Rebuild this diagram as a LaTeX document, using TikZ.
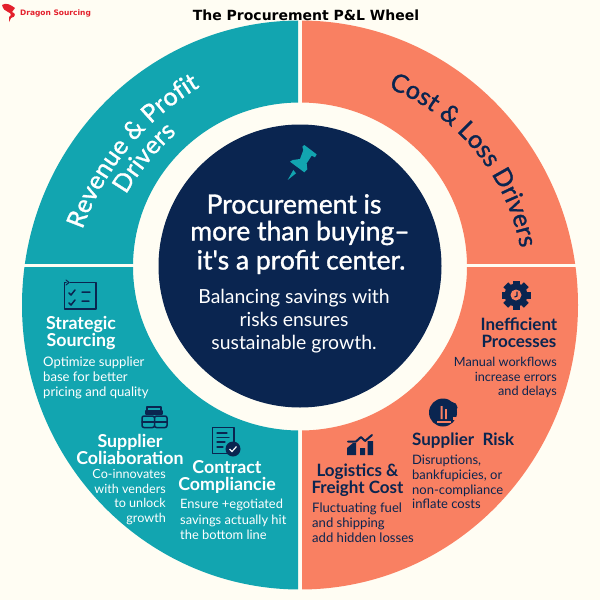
\documentclass[tikz,border=0pt]{standalone}
\usepackage{fontspec}
\setmainfont{Lato}
\newfontfamily\medfont{Lato}[FakeBold=1.2]
\newfontfamily\headfont{Lato}[BoldFont={Lato Bold}]
\newfontfamily\titlefont{DejaVu Sans}[BoldFont={DejaVu Sans Bold}]
\usetikzlibrary{decorations.text}
\definecolor{paper}{HTML}{FFFDF3}
\definecolor{teal}{HTML}{12A5B0}
\definecolor{coral}{HTML}{F98062}
\definecolor{navy}{HTML}{0A2550}
\definecolor{brandred}{HTML}{E3202C}
\newcommand{\fs}[2]{\fontsize{#1pt}{#2pt}\selectfont}
\tikzset{
  headw/.style={text=white,font=\headfont\bfseries\fs{17.8}{17},align=center,inner sep=0pt},
  headn/.style={text=navy,font=\headfont\bfseries\fs{17}{17},align=center,inner sep=0pt},
  bodyw/.style={text=white,font=\fs{13.1}{15},inner sep=0pt},
  bodyn/.style={text=navy,font=\fs{13.1}{15},inner sep=0pt},
  centreline/.style={inner sep=0pt,text=white,font=\medfont\fs{26.5}{29}},
  iconline/.style={draw=navy,line width=1.5pt,line cap=round,line join=round},
  curved/.style={decorate,decoration={text along path,text align=center,text={#1}}},
  ringpart/.style={even odd rule}
}
\newcommand{\ringshape}{(300,305) ellipse [x radius=278pt,y radius=284.5pt] (300,266.5) ellipse [x radius=167pt,y radius=164pt]}
\begin{document}
\begin{tikzpicture}[x=1pt,y=-1pt]
\useasboundingbox (0,0) rectangle (600,600);
\fill[paper] (0,0) rectangle (600,600);
% ring quadrants
\begin{scope}
  \clip (0,0) rectangle (298,263);
  \fill[teal,ringpart] \ringshape;
\end{scope}
\begin{scope}
  \clip (0,267) rectangle (298,600);
  \fill[teal,ringpart] \ringshape;
\end{scope}
\begin{scope}
  \clip (302,0) rectangle (600,263);
  \fill[coral,ringpart] \ringshape;
\end{scope}
\begin{scope}
  \clip (302,267) rectangle (600,600);
  \fill[coral,ringpart] \ringshape;
\end{scope}
\fill[navy] (300,266) circle [radius=141.5pt];
% title and logo
\node (title) at (306,15) [inner sep=0pt,font=\titlefont\bfseries\fs{14}{14}] {The Procurement P\&L Wheel};
\node (logo) at (55.5,13) [inner sep=0pt,text=brandred,font=\titlefont\bfseries\fs{7.5}{8}] {Dragon Sourcing};
\fill[brandred] (2,5) .. controls (6,2) and (11,5) .. (15,8) -- (12,12) .. controls (16,13) and (16,17) .. (11,18) -- (9,22) -- (9,17) .. controls (12,15) and (11,13) .. (8,12) .. controls (5,11) and (3,9) .. (2,5) -- cycle;
% curved headers
\path[curved={|\medfont\fs{25}{25}\color{white}|Revenue {\&} Profit}] (83,228) arc [start angle=160,end angle=121,radius=272pt];
\path[curved={|\medfont\fs{25}{25}\color{white}|Drivers}] (107,235) arc [start angle=160,end angle=121,radius=249pt];
\path[curved={|\medfont\fs{25}{25}\color{navy}|Cost {\&} Loss Drivers}] (393,90) arc [start angle=67,end angle=12,radius=215pt];
% centre text
\node (c1) at (294,204) [centreline] {Procurement is};
\node (c2) at (300,233) [centreline] {more than buying–};
\node (c3) at (301,262) [centreline] {it's a profit center.};
\node (c4) at (294,321) [inner sep=0pt,text=white,align=center,font=\fs{19.4}{23}] {Balancing savings with\\risks ensures\\sustainable growth.};
% left texts
\node (h1) at (81,333.5) [headw] {Strategic\\Sourcing};
\node (b1) at (43,378) [bodyw,anchor=west,align=left] {Optimize supplier\\base for better\\pricing and quality};
\node (h2) at (130,449.5) [headw] {Supplier\\Coliaboration};
\node (b2) at (166,497) [bodyw,anchor=east,align=right,font=\fs{12.6}{14.5}] {Co-innovates\\with venders\\to unlock\\growth};
\node (h3) at (227,477) [headw] {Contract\\Compliancie};
\node (b3) at (180,519.5) [bodyw,anchor=west,align=left,font=\fs{12.9}{15.3}] {Ensure +egotiated\\savings actually hit\\the bottom line};
% right texts
\node (h4) at (519,333) [headn] {Inefficient\\Processes};
\node (b4) at (557,377.5) [bodyn,anchor=east,align=right,font=\fs{12.7}{14.7}] {Manual workflows\\increase errors\\and delays};
\node (h5) at (412,441) [headn,anchor=west] {Supplier\ \ Risk};
\node (b5) at (412,482) [bodyn,anchor=west,align=left,font=\fs{13}{14.6}] {Disruptions,\\bankfupicies, or\\non-compliance\\inflate costs};
\node (h6) at (357.5,480) [headn] {Logistics \&\\Freight Cost};
\node (b6) at (312,523) [bodyn,anchor=west,align=left] {Fluctuating fuel\\and shipping\\add hidden losses};
% pin
\begin{scope}[shift={(270,135)},x=0.3333pt,y=-0.3333pt]
  \fill[teal] (97,35) -- (103,30) -- (140,58) -- (135,67) -- (125,62) -- (110,85) -- (112,103) -- (103,112) -- (60,80) -- (68,75) -- (90,72) -- (100,45) -- cycle;
  \fill[teal] (70,105) -- (53,135) -- (78,115) -- cycle;
\end{scope}
% checklist icon
\draw[iconline] (70,282.5) -- (96,282.5) -- (96,309) -- (64.5,309) -- (64.5,282.5) -- (66,282.5);
\draw[iconline,line width=1pt] (66,280) -- (69,282.5) -- (66,285);
\draw[iconline] (69,293) -- (71,295) -- (75,290) (69,303) -- (71,305) -- (75,300) (82,292) -- (90,292) (82,301) -- (89,301);
% boxes icon
\draw[iconline,fill=navy] (146,411) rectangle (162,414);
\draw[iconline] (147,411) -- (147,407) -- (161,407) -- (161,411);
\draw[iconline,rounded corners=2pt] (142,416) rectangle (154.5,427.5) (154.5,416) rectangle (167,427.5);
\draw[iconline] (142,422) -- (167,422);
% document icon
\draw[iconline] (228,453.5) -- (212.5,453.5) -- (212.5,427.5) -- (234,427.5) -- (234,442);
\draw[iconline,line width=1.2pt] (217,433) -- (227,433) (217,437.5) -- (229,437.5) (217,442) -- (225,442) (217,447) -- (223,447);
\fill[navy] (233,449) circle [radius=7.5pt];
\draw[white,line width=1.2pt] (229.5,449) -- (232,451.5) -- (236.5,446.5);
% gear icon
\foreach \a in {0,45,...,315}{
  \fill[navy,rotate around={\a:(516,295)}] (512.5,280.5) rectangle (519.5,290);
}
\fill[navy] (516,295) circle [radius=11.5pt];
\fill[coral] (516,295) circle [radius=5.5pt];
\draw[navy,line width=1.2pt] (517,291.5) -- (517,296) -- (514.5,297);
% risk icon
\fill[navy] (443,412.5) circle [radius=14pt];
\fill[navy] (452,407.5) circle [radius=5.5pt];
\fill[coral] (453,417) rectangle (458,420);
\fill[coral] (440.5,406) rectangle (442.5,419) (445,409) rectangle (446.8,419);
\fill[coral] (437,421) rectangle (451,422.5);
% chart icon
\fill[navy] (347,448) -- (353,443) -- (356,443) -- (356,455) -- (347,455) -- cycle;
\fill[navy] (360,448) rectangle (365,455) (367.5,441) rectangle (373,455);
\draw[iconline,line width=2pt] (348,441.5) -- (356,441.5) -- (361,437) -- (365,441) -- (372,435);
\end{tikzpicture}
\end{document}
